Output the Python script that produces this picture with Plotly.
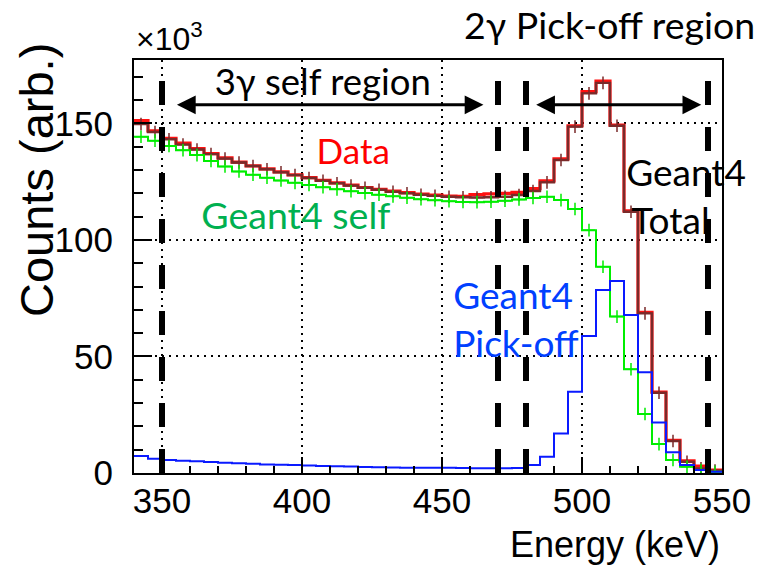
import plotly.graph_objects as go

# ---------------- data (counts in units of 10^3) ----------------
bin_edges = list(range(340, 551, 5))  # 5 keV bins, 340..550 keV

data_counts = [151.2, 146.8, 143.6, 141.5, 139.2, 137.0, 135.2, 133.4, 131.8, 130.5,
               129.2, 127.9, 126.7, 125.6, 124.5, 123.5, 122.5, 121.7, 120.9, 120.3,
               119.7, 119.2, 118.8, 118.7, 119.5, 119.8, 120.0, 120.4, 122.0, 125.3,
               134.8, 149.0, 163.6, 168.1, 149.3, 112.5, 68.9, 34.7, 14.0, 5.2,
               3.0, 1.2]

total_counts = [149.7, 146.3, 143.2, 140.9, 138.8, 136.8, 134.9, 133.2, 131.7, 130.3,
                129.0, 127.8, 126.6, 125.4, 124.3, 123.3, 122.4, 121.5, 120.7, 120.0,
                119.4, 118.9, 118.5, 118.3, 118.2, 118.3, 118.5, 119.3, 121.0, 124.7,
                134.3, 148.6, 162.9, 167.4, 149.0, 112.1, 68.5, 34.4, 13.7, 4.8,
                2.0, 1.0]

self_counts = [144.3, 142.6, 140.3, 138.5, 136.4, 133.9, 131.5, 129.4, 128.0, 126.7,
               125.5, 124.5, 123.6, 122.6, 121.7, 120.9, 120.1, 119.4, 118.7, 118.1,
               117.5, 117.0, 116.6, 116.3, 116.2, 116.4, 116.8, 117.4, 118.0, 118.5,
               117.1, 113.3, 104.2, 88.5, 67.1, 44.5, 25.3, 12.4, 5.6, 2.7,
               1.3, 0.5]

pickoff_counts = [7.3, 6.1, 5.6, 5.3, 5.0, 4.7, 4.4, 4.2, 4.0, 3.7,
                  3.5, 3.4, 3.2, 3.0, 2.9, 2.8, 2.6, 2.5, 2.4, 2.3,
                  2.3, 2.2, 2.2, 2.1, 2.0, 2.0, 2.0, 2.1, 3.4, 7.0,
                  17.0, 34.9, 58.8, 78.5, 82.4, 67.8, 43.2, 21.7, 8.9, 3.4,
                  1.3, 0.5]

region_edges = [350, 470, 480, 545]          # keV, thick dashed boundaries
self_region_arrow = [354.8, 464.8]           # keV
pickoff_region_arrow = [483.1, 542.6]        # keV
arrow_level = 158.0                          # 10^3 counts

x_ticks = [350, 400, 450, 500, 550]
y_ticks = [0, 50, 100, 150]
x_range = [340, 550]
y_range = [0, 177.2]

ROOT_FONT = "Liberation Sans"
PPT_FONT = "Lato"

bin_centers = [(a + b) / 2 for a, b in zip(bin_edges[:-1], bin_edges[1:])]


def step_y(vals):
    return list(vals) + [vals[-1]]


fig = go.Figure()

# histograms
fig.add_trace(go.Scatter(x=bin_edges, y=step_y(data_counts), mode="lines",
                         line=dict(shape="hv", color="#ff1010", width=3.2),
                         hoverinfo="skip"))
fig.add_trace(go.Scatter(x=bin_edges, y=step_y(total_counts), mode="lines",
                         line=dict(shape="hv", color="#7a2a2a", width=2.4),
                         hoverinfo="skip"))
fig.add_trace(go.Scatter(x=bin_centers, y=total_counts, mode="markers",
                         marker=dict(symbol="cross-thin", size=9,
                                     line=dict(color="#7a2a2a", width=1.5)),
                         hoverinfo="skip"))
fig.add_trace(go.Scatter(x=bin_edges, y=step_y(self_counts), mode="lines",
                         line=dict(shape="hv", color="#00ee00", width=2),
                         hoverinfo="skip"))
fig.add_trace(go.Scatter(x=bin_centers, y=self_counts, mode="markers",
                         marker=dict(symbol="cross-thin", size=9,
                                     line=dict(color="#00ee00", width=1.5)),
                         hoverinfo="skip"))
fig.add_trace(go.Scatter(x=bin_edges, y=step_y(pickoff_counts), mode="lines",
                         line=dict(shape="hv", color="#0a1aff", width=2),
                         hoverinfo="skip"))

# in-plot labels (as text traces so the dashed lines can be drawn above them)
labels = [
    ("3γ self region", 407.4, 166.2, "middle center", "black", 36.5),
    ("Data", 418.3, 136.4, "middle center", "#ff0000", 35),
    ("Geant4 self", 397.8, 108.5, "middle center", "#00b050", 37.5),
    ("Geant4", 515.8, 127.2, "middle right", "black", 37),
    ("Total", 517.6, 106.4, "middle right", "black", 37),
    ("Geant4", 454.0, 74.2, "middle right", "#0040ff", 37),
    ("Pick-off", 454.0, 53.6, "middle right", "#0040ff", 37),
]
for txt, lx, ly, pos, col, size in labels:
    fig.add_trace(go.Scatter(x=[lx], y=[ly], mode="text", text=[txt],
                             textposition=pos, cliponaxis=False,
                             textfont=dict(family=PPT_FONT, size=size, color=col),
                             hoverinfo="skip"))

# thick dashed region boundaries
for xe in region_edges:
    fig.add_trace(go.Scatter(x=[xe, xe], y=y_range, mode="lines",
                             line=dict(color="black", width=6, dash="24px,22px"),
                             hoverinfo="skip"))

annotations = []
# double arrows
for a0, a1 in (self_region_arrow, pickoff_region_arrow):
    annotations.append(dict(x=a1, y=arrow_level, ax=a0, ay=arrow_level,
                            xref="x", yref="y", axref="x", ayref="y",
                            text="", showarrow=True, arrowhead=2, arrowsize=1.25,
                            arrowwidth=3, arrowcolor="black",
                            arrowside="end+start", standoff=0, startstandoff=0))

annotations += [
    dict(text="2γ Pick-off region", x=0.8095, y=1.087, xref="paper", yref="paper",
         xanchor="center", yanchor="middle", showarrow=False,
         font=dict(family=PPT_FONT, size=37.5, color="black")),
    dict(text="×10<sup>3</sup>", x=0.0, y=1.055, xref="paper", yref="paper",
         xanchor="left", yanchor="middle", showarrow=False,
         font=dict(family=ROOT_FONT, size=32, color="black")),
    dict(text="Counts (arb.)", x=-0.167, y=0.709, xref="paper", yref="paper",
         xanchor="center", yanchor="middle", textangle=-90, showarrow=False,
         font=dict(family=ROOT_FONT, size=47, color="black")),
    dict(text="Energy (keV)", x=1.0, y=-0.174, xref="paper", yref="paper",
         xanchor="right", yanchor="middle", showarrow=False,
         font=dict(family=ROOT_FONT, size=36, color="black")),
]

axis_common = dict(
    showline=True, linewidth=2, linecolor="black", mirror=True,
    ticks="inside", tickwidth=2, tickcolor="black",
    showgrid=True, gridcolor="black", gridwidth=2, griddash="2px,5px",
    zeroline=False, automargin=False,
    tickfont=dict(family=ROOT_FONT, size=35, color="black"),
)

fig.update_layout(
    width=757, height=566,
    margin=dict(l=134, r=35, t=60, b=93, autoexpand=False),
    paper_bgcolor="white", plot_bgcolor="white",
    showlegend=False,
    xaxis=dict(range=x_range, tickmode="array", tickvals=x_ticks, ticklen=16,
               ticklabelstandoff=-4,
               minor=dict(dtick=10, tick0=340, ticks="inside", ticklen=7,
                          tickwidth=2, tickcolor="black", showgrid=False),
               **axis_common),
    yaxis=dict(range=y_range, tickmode="array", tickvals=y_ticks, ticklen=18,
               ticklabelstandoff=12,
               minor=dict(dtick=10, tick0=0, ticks="inside", ticklen=9,
                          tickwidth=2, tickcolor="black", showgrid=False),
               **axis_common),
    annotations=annotations,
)

fig.write_html("out.html")
